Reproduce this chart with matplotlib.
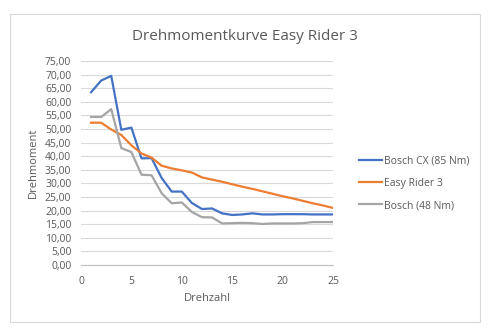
import matplotlib.pyplot as plt
from matplotlib.patches import Rectangle
from matplotlib.ticker import FuncFormatter

plt.rcParams['font.family'] = ['Open Sans', 'DejaVu Sans']

drehzahl = list(range(1, 26))
bosch_cx = [63.5, 67.8, 69.5, 49.7, 50.5, 39.2, 39.3, 32.0, 27.0, 27.0,
            22.8, 20.6, 20.8, 19.0, 18.4, 18.6, 19.0, 18.6, 18.6, 18.7,
            18.7, 18.7, 18.6, 18.6, 18.6]
easy_rider = [52.3, 52.3, 49.8, 47.8, 44.0, 41.0, 39.5, 36.5, 35.5, 34.8,
              34.0, 32.2, 31.4, 30.6, 29.7, 28.8, 28.0, 27.1, 26.2, 25.3,
              24.5, 23.6, 22.7, 21.9, 21.0]
bosch_48 = [54.4, 54.4, 57.3, 43.0, 41.5, 33.2, 33.0, 26.4, 22.7, 23.0,
            19.5, 17.6, 17.5, 15.3, 15.4, 15.5, 15.4, 15.1, 15.3, 15.3,
            15.3, 15.4, 15.8, 15.8, 15.8]

fig = plt.figure(figsize=(5, 3.33), dpi=100)
fig.patches.append(Rectangle((10 / 500, 1 - 322 / 333), 470 / 500, 308 / 333,
                             transform=fig.transFigure, fill=False,
                             edgecolor='#d9d9d9', linewidth=0.8))
ax = fig.add_axes([0.162, 0.204, 0.504, 0.613])

ax.plot(drehzahl, bosch_cx, color='#4472C4', lw=1.6, label='Bosch CX (85 Nm)')
ax.plot(drehzahl, easy_rider, color='#ED7D31', lw=1.6, label='Easy Rider 3')
ax.plot(drehzahl, bosch_48, color='#A5A5A5', lw=1.6, label='Bosch (48 Nm)')

ax.set_xlim(0, 25)
ax.set_ylim(0, 75)
ax.set_xticks(range(0, 26, 5))
ax.set_yticks(range(0, 76, 5))
ax.yaxis.set_major_formatter(FuncFormatter(lambda v, p: f'{v:.2f}'.replace('.', ',')))
ax.grid(axis='y', color='#d9d9d9', lw=0.8)
ax.set_axisbelow(True)
for s in ['top', 'right', 'left']:
    ax.spines[s].set_visible(False)
ax.spines['bottom'].set_color('#bfbfbf')
ax.tick_params(length=0, labelsize=7.5, colors='#595959')
ax.tick_params(axis='y', pad=7)
ax.tick_params(axis='x', pad=8)
ax.set_xlabel('Drehzahl', fontsize=8, color='#595959', labelpad=4)
ax.set_ylabel('Drehmoment', fontsize=8, color='#595959', labelpad=4)

fig.text(0.49, 0.89, 'Drehmomentkurve Easy Rider 3', ha='center', va='center',
         fontsize=11, color='#595959')
fig.legend(loc='center left', bbox_to_anchor=(0.7, 0.45), frameon=False,
           fontsize=7.5, labelcolor='#595959', handlelength=2.2,
           handletextpad=0.2, labelspacing=1.1)

fig.savefig('out.png', dpi=100)
